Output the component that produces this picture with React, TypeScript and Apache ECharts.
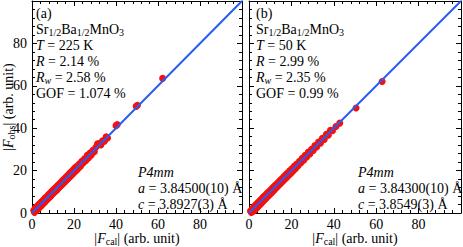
import React, { useEffect, useRef } from "react";
import * as echarts from "echarts";

// |F_cal|, |F_obs| pairs
const panelA: number[][] = [
  [0.8, 1.2], [1.2, 0.3], [1.5, 2.3], [2.0, 1.1], [2.3, 3.1], [2.6, 1.6], [3.0, 3.8], [3.2, 2.2],
  [3.6, 4.3], [3.9, 2.9], [4.3, 5.1], [4.6, 3.6], [5.0, 5.8], [5.2, 4.3], [5.7, 6.4], [6.0, 5.0],
  [6.3, 7.2], [6.7, 5.8], [7.1, 7.8], [7.4, 6.5], [7.8, 8.6], [8.1, 7.2], [8.5, 9.3], [8.9, 7.9],
  [9.2, 10.0], [9.6, 8.7], [10.0, 10.8], [10.3, 9.4], [10.8, 11.5], [11.1, 10.2], [11.5, 12.3],
  [11.9, 10.9], [12.3, 13.1], [12.6, 11.7], [13.1, 13.8], [13.4, 12.5], [13.9, 14.6], [14.2, 13.2],
  [14.6, 15.4], [15.0, 14.1], [15.5, 16.2], [15.8, 14.8], [16.3, 17.1], [16.7, 15.7], [17.2, 17.9],
  [17.5, 16.5], [18.0, 18.8], [18.4, 17.4], [18.9, 19.7], [19.3, 18.3], [19.8, 20.6], [20.2, 19.2],
  [20.6, 21.5], [21.1, 20.1], [21.5, 22.2], [22.0, 21.0], [22.6, 23.2], [23.1, 22.1], [23.7, 24.4],
  [24.3, 23.5], [25.0, 25.6], [25.6, 24.7], [26.3, 27.2], [26.9, 26.0], [27.6, 28.3], [28.2, 27.3],
  [29.0, 29.6], [29.7, 28.9], [30.4, 31.0], [31.2, 32.6], [32.0, 32.8], [32.8, 32.1], [33.6, 34.1],
  [34.5, 33.8], [35.3, 35.9], [36.0, 35.4], [40.0, 41.2], [40.6, 41.7], [49.6, 50.3], [50.2, 50.8],
  [62.2, 63.5],
];

const panelB: number[][] = [
  [0.7, 0.9], [1.1, 0.2], [1.6, 2.1], [2.0, 0.8], [2.4, 3.0], [2.8, 1.4], [3.1, 3.7], [3.5, 2.2],
  [3.8, 4.5], [4.2, 2.9], [4.5, 5.2], [4.9, 3.7], [5.3, 6.0], [5.6, 4.4], [6.0, 6.7], [6.3, 5.1],
  [6.7, 7.5], [7.0, 5.9], [7.4, 8.1], [7.8, 6.6], [8.2, 8.9], [8.5, 7.4], [8.9, 9.6], [9.3, 8.2],
  [9.7, 10.4], [10.1, 9.0], [10.5, 11.2], [10.9, 9.8], [11.3, 12.0], [11.7, 10.6], [12.1, 12.8],
  [12.5, 11.5], [12.9, 13.6], [13.3, 12.3], [13.8, 14.5], [14.2, 13.2], [14.7, 15.4], [15.1, 14.1],
  [15.6, 16.3], [16.0, 15.0], [16.5, 17.2], [16.9, 15.9], [17.4, 18.1], [17.8, 16.8], [18.3, 19.0],
  [18.8, 17.8], [19.3, 20.0], [19.8, 18.8], [20.3, 21.0], [20.8, 19.8], [21.4, 22.1], [21.9, 20.9],
  [22.5, 23.1], [23.1, 22.2], [23.8, 24.4], [24.4, 23.6], [25.1, 25.8], [25.8, 24.9], [26.5, 27.2],
  [27.2, 26.4], [28.0, 28.7], [28.7, 27.8], [29.5, 30.1], [30.3, 29.5], [31.1, 31.8], [31.9, 31.1],
  [32.8, 33.5], [33.7, 32.9], [34.6, 35.3], [35.5, 34.7], [36.5, 37.1], [37.4, 36.7], [38.4, 39.0],
  [39.4, 38.8], [41.0, 40.8], [42.8, 42.4], [50.5, 49.5], [62.8, 62.0],
];

const axisTicks = [0, 20, 40, 60, 80];
const lineEnds: number[][] = [[0, 0], [100, 100]];

const SERIF = "'Liberation Serif', 'DejaVu Serif', serif";
const RED = "#f50f0f";
const BLUE = "#2a5cf2";

const rich = {
  s: { fontFamily: SERIF, fontSize: 10, lineHeight: 10, padding: [6, 0, 0, 0], color: "#000" },
  i: { fontFamily: SERIF, fontSize: 14, lineHeight: 16, fontStyle: "italic", color: "#000" },
  si: { fontFamily: SERIF, fontSize: 10, lineHeight: 10, padding: [6, 0, 0, 0], fontStyle: "italic", color: "#000" },
  n: { fontFamily: SERIF, fontSize: 14, lineHeight: 16, color: "#000" },
};

function App() {
  const ref = useRef<HTMLDivElement>(null);
  useEffect(() => {
    if (!ref.current) return;
    const chart = echarts.init(ref.current, undefined, { renderer: "svg" });

    const labelBase = {
      show: true,
      showMaxLabel: false,
      fontFamily: SERIF,
      fontSize: 14,
      color: "#000",
      formatter: (v: number) => (axisTicks.indexOf(v) >= 0 ? String(v) : ""),
    };

    const baseAxis = (extra: any) => ({
      type: "value",
      min: 0,
      max: 100,
      interval: 20,
      splitLine: { show: false },
      axisLine: { show: true, onZero: false, lineStyle: { color: "#000", width: 1 } },
      axisTick: { show: true, inside: true, length: 5, lineStyle: { color: "#000" } },
      minorTick: { show: true, splitNumber: 5, length: 3, lineStyle: { color: "#000" } },
      nameMoveOverlap: false,
      ...extra,
    });

    const xName = "|{i|F}{s|cal}| (arb. unit)";
    const yName = "|{i|F}{s|obs}| (arb. unit)";
    const nameStyle = { fontFamily: SERIF, fontSize: 14, color: "#000", rich };

    const titleStyle = {
      fontFamily: SERIF,
      fontSize: 14,
      fontWeight: "normal",
      color: "#000",
      lineHeight: 16,
      rich,
    };

    const topText = (label: string, T: string, R: string, Rw: string, gof: string) =>
      `{n|(${label})}\n{n|Sr}{s|1/2}{n|Ba}{s|1/2}{n|MnO}{s|3}\n{i|T}{n| = ${T} K}\n{i|R}{n| = ${R} %}\n{i|R}{si|w}{n| = ${Rw} %}\n{n|GOF = ${gof} %}`;
    const botText = (a: string, c: string) =>
      `{i|P4mm}\n{i|a}{n| = ${a} Å}\n{i|c}{n| = ${c} Å}`;

    chart.setOption({
      animation: false,
      backgroundColor: "#fff",
      title: [
        { text: topText("a", "225", "2.14", "2.58", "1.074"), left: 36, top: 5, padding: 0, textStyle: titleStyle },
        { text: botText("3.84500(10)", "3.8927(3)"), left: 138, top: 164, padding: 0, textStyle: titleStyle },
        { text: topText("b", "50", "2.99", "2.35", "0.99"), left: 256, top: 5, padding: 0, textStyle: titleStyle },
        { text: botText("3.84300(10)", "3.8549(3)"), left: 358, top: 164, padding: 0, textStyle: titleStyle },
      ],
      grid: [
        { left: 32, top: 1, width: 210, height: 212, outerBoundsMode: "none", containLabel: false },
        { left: 249, top: 1, width: 212, height: 212, outerBoundsMode: "none", containLabel: false },
      ],
      xAxis: [
        baseAxis({ gridIndex: 0, position: "bottom", axisLabel: { ...labelBase, margin: 4 }, name: xName, nameLocation: "middle", nameGap: 17, nameTextStyle: nameStyle }),
        baseAxis({ gridIndex: 0, position: "top", axisLabel: { show: false } }),
        baseAxis({ gridIndex: 1, position: "bottom", axisLabel: { ...labelBase, margin: 4 }, name: xName, nameLocation: "middle", nameGap: 17, nameTextStyle: nameStyle }),
        baseAxis({ gridIndex: 1, position: "top", axisLabel: { show: false } }),
      ],
      yAxis: [
        baseAxis({ gridIndex: 0, position: "left", axisLabel: { ...labelBase, margin: 5 }, name: yName, nameLocation: "middle", nameGap: 16, nameRotate: 90, nameTextStyle: nameStyle }),
        baseAxis({ gridIndex: 0, position: "right", axisLabel: { show: false } }),
        baseAxis({ gridIndex: 1, position: "left", axisLabel: { show: false } }),
        baseAxis({ gridIndex: 1, position: "right", axisLabel: { show: false } }),
      ],
      series: [
        { type: "scatter", xAxisIndex: 0, yAxisIndex: 0, data: panelA, symbol: "circle", symbolSize: 7, itemStyle: { color: RED, opacity: 1 }, z: 2 },
        { type: "line", xAxisIndex: 0, yAxisIndex: 0, data: lineEnds, showSymbol: false, lineStyle: { color: BLUE, width: 2 }, z: 3 },
        { type: "scatter", xAxisIndex: 2, yAxisIndex: 2, data: panelB, symbol: "circle", symbolSize: 7, itemStyle: { color: RED, opacity: 1 }, z: 2 },
        { type: "line", xAxisIndex: 2, yAxisIndex: 2, data: lineEnds, showSymbol: false, lineStyle: { color: BLUE, width: 2 }, z: 3 },
      ],
    });
    return () => chart.dispose();
  }, []);
  return (
    <div
      ref={ref}
      style={{ position: "fixed", left: 0, top: 0, width: 463, height: 247 }}
    />
  );
}

export default App;
